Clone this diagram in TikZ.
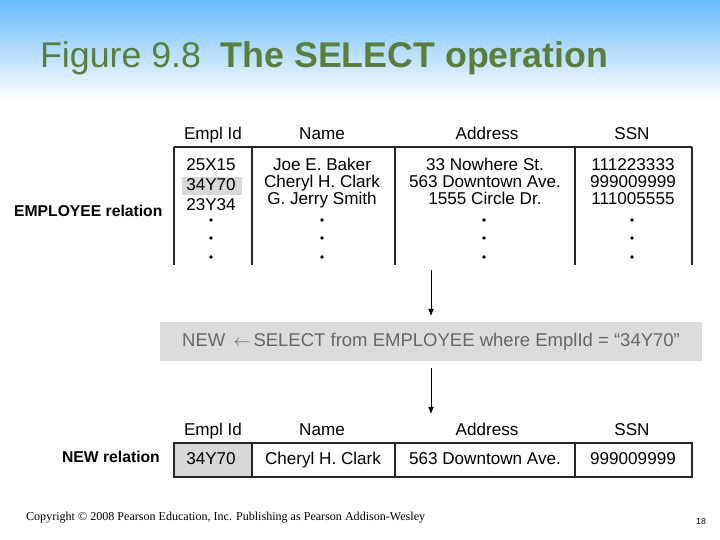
\documentclass[tikz,border=0pt]{standalone}
\usepackage{fontspec}
\setmainfont{Liberation Sans}
\newfontfamily\serif{Liberation Serif}
\usetikzlibrary{calc,arrows.meta}
\definecolor{titlegreen}{HTML}{5B7F3A}
\definecolor{bandgray}{HTML}{DCDCDC}
\definecolor{cellgray}{HTML}{D8D8D8}
\begin{document}
\begin{tikzpicture}[
    x=0.03cm,y=-0.03cm,
    >=latex,
    cell/.style={font=\fontsize{14.6}{16}\selectfont,inner sep=0pt,text height=1.6ex,text depth=0.25ex},
    head/.style={font=\fontsize{14.6}{16}\selectfont,inner sep=0pt,text height=1.6ex,text depth=0.25ex},
    rule/.style={line width=1.2pt,draw=black!85},
    tick/.style={line width=0.9pt,draw=black!85},
    flow/.style={-{Latex[length=6pt,width=5pt]},line width=0.7pt}
    ]
\useasboundingbox (0,0) rectangle (720,540);
% BACKGROUND
\shade[top color=blue!45!cyan!60!white,bottom color=white] (0,0) rectangle (720,100);
\node[anchor=west,text=titlegreen,font=\fontsize{30.5}{34}\selectfont] (title) at (36,58)
  {Figure 9.8\ \ \textbf{The SELECT operation}};

% EMPLOYEE RELATION
\node[head] (h1) at (213,135) {Empl Id};
\node[head] (h2) at (322,135) {Name};
\node[head] (h3) at (487,135) {Address};
\node[head] (h4) at (632,135) {SSN};
\fill[cellgray] (182,177) rectangle (242,195);
\draw[rule] (174,147) -- (692,147);
\foreach \x in {174,252,395,575,692}
  \draw[tick] (\x,147) -- (\x,265);
\node[cell] (e1) at (211,166) {25X15};
\node[cell] (e2) at (211,186) {34Y70};
\node[cell] (e3) at (211,206) {23Y34};
\node[cell] (n1) at (322,166) {Joe E. Baker};
\node[cell] (n2) at (322,183) {Cheryl H. Clark};
\node[cell] (n3) at (322,200) {G. Jerry Smith};
\node[cell] (a1) at (485,166) {33 Nowhere St.};
\node[cell] (a2) at (485,183) {563 Downtown Ave.};
\node[cell] (a3) at (485,200) {1555 Circle Dr.};
\node[cell] (s1) at (633,166) {111223333};
\node[cell] (s2) at (633,183) {999009999};
\node[cell] (s3) at (633,200) {111005555};
\foreach \x in {211,322,484,632}
  \foreach \y in {220,238,257}
    \fill (\x,\y) circle (1.8);
\node[anchor=west,font=\fontsize{13.4}{15}\bfseries] (emp) at (10,211) {EMPLOYEE relation};

% SELECT
\coordinate (top) at (431,270);
\fill[bandgray] (160,322) rectangle (702,361);
\node[anchor=west,text=black!60,font=\fontsize{15.8}{18}\selectfont] (sel) at (178,342)
  {NEW \,$\leftarrow$\,SELECT from EMPLOYEE where EmplId = “34Y70”};
\coordinate (bandtop) at (431,316);
\coordinate (bandbot) at (431,368);
\coordinate (newtop) at (431,414);
\draw[flow] (top) -- (bandtop);
\draw[flow] (bandbot) -- (newtop);

% NEW RELATION
\node[head] (g1) at (213,431) {Empl Id};
\node[head] (g2) at (322,431) {Name};
\node[head] (g3) at (487,431) {Address};
\node[head] (g4) at (632,431) {SSN};
\fill[cellgray] (174,443) rectangle (252,477);
\draw[tick] (174,443) rectangle (692,477);
\foreach \x in {252,395,575}
  \draw[tick] (\x,443) -- (\x,477);
\node[cell] (r1) at (211,460) {34Y70};
\node[cell] (r2) at (323,460) {Cheryl H. Clark};
\node[cell] (r3) at (485,460) {563 Downtown Ave.};
\node[cell] (r4) at (633,460) {999009999};
\node[anchor=west,font=\fontsize{13.4}{15}\bfseries] (new) at (58,457) {NEW relation};

% FOOTER
\node[anchor=west,font=\serif\fontsize{10.3}{12}\selectfont] (copy) at (22,518)
  {Copyright © 2008 Pearson Education, Inc. Publishing as Pearson Addison-Wesley};
\node[font=\fontsize{7.5}{8}\selectfont] (page) at (701,521) {18};
\end{tikzpicture}
\end{document}
